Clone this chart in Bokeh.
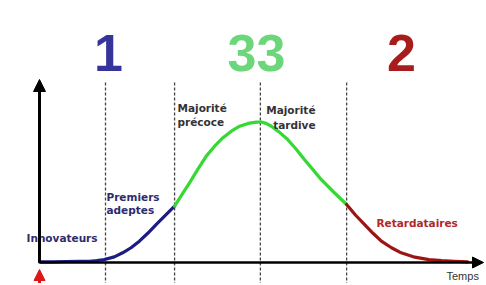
from bokeh.plotting import figure
from bokeh.models import Range1d, Arrow, NormalHead
from bokeh.core.properties import value
from bokeh.embed import file_html
from bokeh.resources import INLINE

# ---- data ----
time = [0, 3, 6.1, 9, 11.4, 13, 14.8, 17, 18.9, 20.8, 22.7, 24.6, 26.5, 28.6, 30.7,
        32.4, 34.1, 36.0, 37.9, 39.8, 41.7, 43.6, 45.5, 47.4, 49.3, 50.4, 51.5, 52.7,
        54.5, 56.4, 58.3, 60.2, 62.1, 64.0, 66.9, 69.8, 71.8, 73.9, 75.8, 77.7, 80.0,
        82.2, 85.3, 88.5, 91.4, 94.3, 97.3]
adoption = [0.4, 0.5, 0.7, 0.8, 0.9, 1.4, 2.1, 4.0, 6.9, 10.5, 15.2, 20.8, 27.0, 33.5, 40.1,
            48.5, 56.7, 66.5, 75.7, 82.8, 88.8, 93.5, 97.0, 99.0, 99.9, 100.0, 99.0, 97.0,
            92.8, 87.5, 80.8, 73.3, 66.3, 59.1, 50.0, 41.3, 33.8, 27.0, 20.8, 15.2, 10.5,
            6.9, 3.8, 2.1, 1.3, 0.9, 0.4]
boundaries = [15.0, 30.7, 50.2, 69.8]
segment_colors = ["#1c1c82", "#35d835", "#9c1414"]
counts = ["1", "33", "2"]
count_colors = ["#34349a", "#6cd67a", "#a81c1c"]

# pixel -> data helpers (page coordinates)
def tx(px):
    return (px - 40) / 4.4

def vy(py):
    return (263 - py) / 1.405

OFF = 1
W, H = 484, 283
p = figure(width=W, height=H, output_backend="svg", toolbar_location=None,
           x_range=Range1d(tx(OFF), tx(OFF + W)), y_range=Range1d(vy(OFF + H), vy(OFF)),
           min_border=0, outline_line_color=None)
p.axis.visible = False
p.grid.visible = False
p.background_fill_color = "white"
p.border_fill_color = "white"

# dashed boundaries
for b in boundaries:
    p.segment(x0=[b], y0=[vy(83)], x1=[b], y1=[vy(300)], line_color="#444444",
              line_width=1.3, line_dash="3 2")

# axes with arrows
p.add_layout(Arrow(x_start=0, y_start=vy(263), x_end=0, y_end=vy(80),
                   line_width=3, line_color="black",
                   end=NormalHead(size=12, fill_color="black", line_color="black")))
p.add_layout(Arrow(x_start=0, y_start=0, x_end=tx(484), y_end=0,
                   line_width=2.5, line_color="black",
                   end=NormalHead(size=11, fill_color="black", line_color="black")))
# red marker arrow under origin
p.add_layout(Arrow(x_start=0, y_start=vy(300), x_end=0, y_end=vy(270),
                   line_width=3, line_color="#e01515",
                   end=NormalHead(size=11, fill_color="#e01515", line_color="#e01515")))

# curve segments
cuts = [boundaries[1], boundaries[3]]
segs = [[], [], []]
for t, a in zip(time, adoption):
    if t <= cuts[0]:
        segs[0].append((t, a))
    if cuts[0] <= t <= cuts[1]:
        segs[1].append((t, a))
    if t >= cuts[1]:
        segs[2].append((t, a))
for s, c in zip(segs, segment_colors):
    p.line([q[0] for q in s], [q[1] for q in s], line_color=c, line_width=3.2,
           line_join="round", line_cap="round")

# big counts
p.text(x=[tx(109), tx(257), tx(402)], y=[vy(53)] * 3, text=counts,
       text_color=count_colors, text_font=value("Liberation Sans"), text_font_size="52px",
       text_font_style="bold", text_align="center", text_baseline="alphabetic")

def label(px, py, txt, color, align="left", size="10.5px", style="bold",
          font="DejaVu Sans"):
    p.text(x=[tx(px)], y=[vy(py)], text=[txt], text_color=color, text_font=value(font),
           text_font_size=size, text_font_style=style, text_align=align,
           text_baseline="alphabetic")

label(27, 238, "Innovateurs", "#2c2c6e")
label(107, 197, "Premiers", "#2c2c6e")
label(107, 210, "adeptes", "#2c2c6e")
label(178, 108, "Majorité", "#333333")
label(178, 122, "précoce", "#333333")
label(316, 110, "Majorité", "#333333", align="right")
label(316, 125, "tardive", "#333333", align="right")
label(377, 223, "Retardataires", "#b02828")
label(447, 276, "Temps", "#333333", size="11px", style="normal", font="Liberation Sans")

open("out.html", "w").write(file_html(p, INLINE))
